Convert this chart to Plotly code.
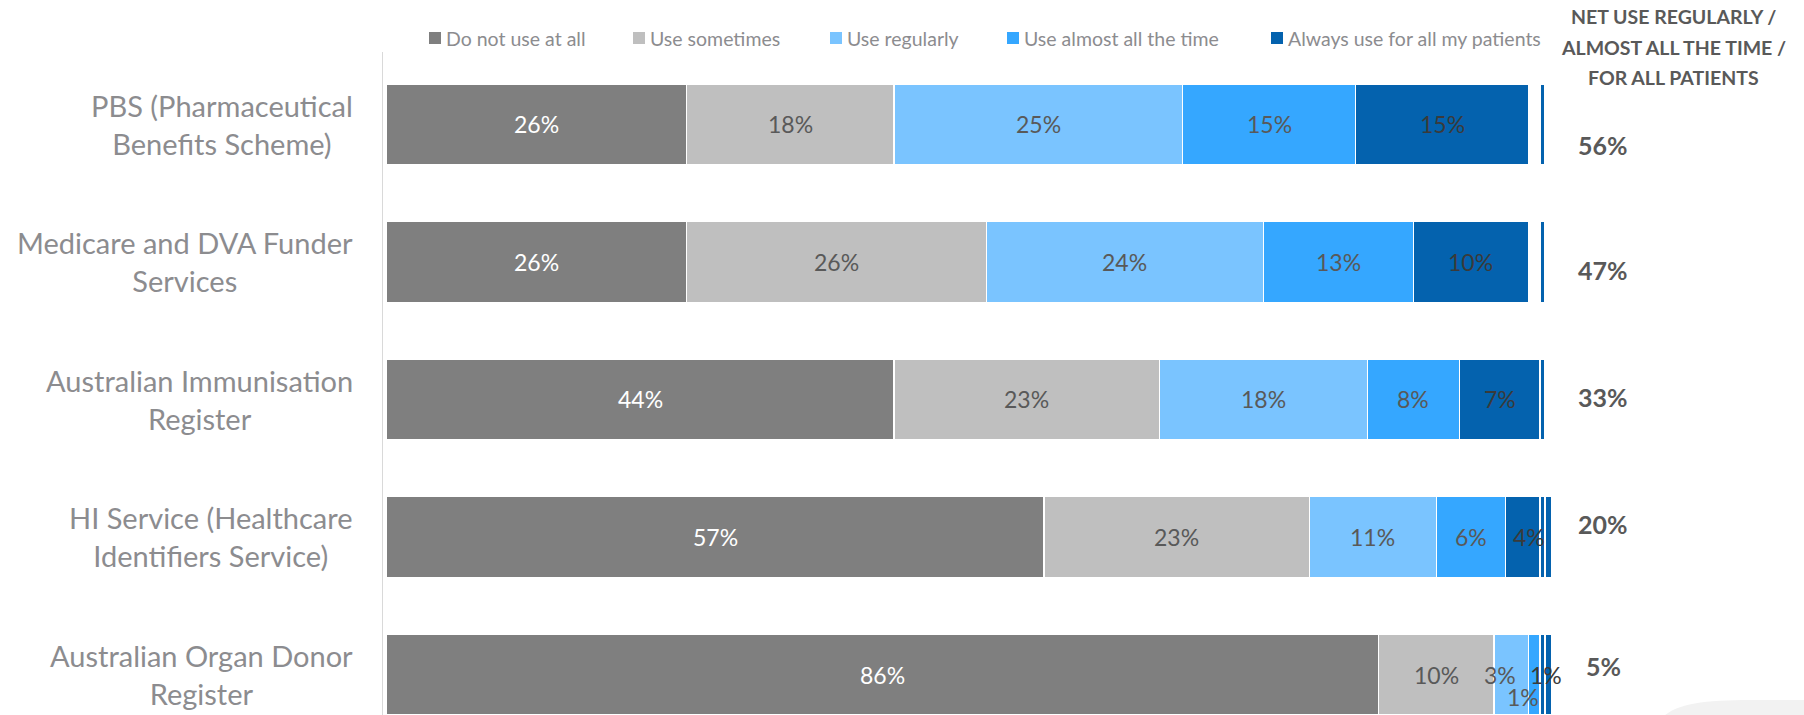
import plotly.graph_objects as go

# ---- data -------------------------------------------------------------
categories = [
    "PBS (Pharmaceutical<br>Benefits Scheme)",
    "Medicare and DVA Funder<br>Services",
    "Australian Immunisation<br>Register",
    "HI Service (Healthcare<br>Identifiers Service)",
    "Australian Organ Donor<br>Register",
]
series_names = [
    "Do not use at all",
    "Use sometimes",
    "Use regularly",
    "Use almost all the time",
    "Always use for all my patients",
]
do_not_use = [26, 26, 44, 57, 86]
use_sometimes = [18, 26, 23, 23, 10]
use_regularly = [25, 24, 18, 11, 3]
use_almost_all = [15, 13, 8, 6, 1]
always_use = [15, 10, 7, 4, 1]
net_use = [56, 47, 33, 20, 5]
net_header = "NET USE REGULARLY /<br>ALMOST ALL THE TIME /<br>FOR ALL PATIENTS"

series_values = [do_not_use, use_sometimes, use_regularly, use_almost_all, always_use]

# ---- style ------------------------------------------------------------
FONT = "Lato"
colors = ["#7F7F7F", "#BFBFBF", "#7AC4FF", "#35A7FF", "#0462AE"]
label_colors = ["#FFFFFF", "#595959", "#595959", "#595959", "#3A3A3A"]
label_gray = "#8C8C8F"
dark_text = "#595959"

W, H = 1804, 715
M_L, M_R, M_T, M_B = 383, 250, 52, 0
PLOT_W = W - M_L - M_R
PLOT_H = H - M_T - M_B


def px_x(px):
    return (px - M_L) / PLOT_W


def px_y(py):
    return (H - M_B - py) / PLOT_H


rows = list(range(len(categories)))

fig = go.Figure()

# stacked segments
for name, vals, col in zip(series_names, series_values, colors):
    fig.add_trace(go.Bar(
        name=name, y=rows, x=vals, orientation="h",
        marker=dict(color=col, line=dict(color="#FFFFFF", width=1.2)),
        width=0.59, showlegend=False, hoverinfo="skip",
    ))

# thin end marker after every bar
marker_w = [0.4] * len(categories)
fig.add_trace(go.Bar(
    y=rows, x=marker_w, base=[100] * len(categories), orientation="h",
    marker=dict(color=colors[-1], line=dict(color="#FFFFFF", width=1.5)),
    width=0.59, showlegend=False, hoverinfo="skip",
))

annotations = []

# segment value labels
label_shift = {(4, 2): (-11, 0), (4, 3): (-11, -22)}
for r in rows:
    start = 0
    for s, vals in enumerate(series_values):
        v = vals[r]
        dx, dy = label_shift.get((r, s), (0, 0))
        annotations.append(dict(
            x=start + v / 2, y=r, xref="x", yref="y", text=f"{v}%",
            showarrow=False, xanchor="center", yanchor="middle",
            xshift=dx, yshift=dy,
            font=dict(family=FONT, size=23, color=label_colors[s]),
        ))
        start += v

# category labels
for r, cat in enumerate(categories):
    annotations.append(dict(
        x=0, y=r, xref="paper", yref="y", text=cat, showarrow=False,
        xanchor="right", yanchor="middle", align="center", xshift=-28,
        font=dict(family=FONT, size=29, color=label_gray),
    ))

# net column
net_yshift = [-21, -8, 2, 13, 9]
for r, v in enumerate(net_use):
    annotations.append(dict(
        x=px_x(1603), y=r, xref="paper", yref="y", text=f"<b>{v}%</b>",
        showarrow=False, xanchor="center", yanchor="middle", yshift=net_yshift[r],
        font=dict(family=FONT, size=25, color=dark_text),
    ))

header_lines = net_header.split("<br>")
for i, line in enumerate(header_lines):
    annotations.append(dict(
        x=px_x(1673), y=px_y(17 + 30.5 * i), xref="paper", yref="paper",
        text=f"<b>{line}</b>", showarrow=False, xanchor="center", yanchor="middle",
        font=dict(family=FONT, size=19.5, color=dark_text),
    ))

# legend row
shapes = []
legend_px = [429, 633, 830, 1007, 1271]
legend_cy = 38
for name, col, lx in zip(series_names, colors, legend_px):
    shapes.append(dict(
        type="rect", xref="paper", yref="paper",
        x0=px_x(lx), x1=px_x(lx + 12), y0=px_y(legend_cy + 6), y1=px_y(legend_cy - 6),
        fillcolor=col, line=dict(width=0),
    ))
    annotations.append(dict(
        x=px_x(lx + 15), y=px_y(legend_cy), xref="paper", yref="paper",
        text=name, showarrow=False, xanchor="left", yanchor="middle",
        font=dict(family=FONT, size=19.5, color=label_gray),
    ))

# soft corner decoration
p = lambda a, b: f"{px_x(a):.5f},{px_y(b):.5f}"
shapes.append(dict(
    type="path", xref="paper", yref="paper", layer="below",
    path=f"M {p(1664, 716)} C {p(1680, 702)} {p(1710, 700)} {p(1760, 700)} "
         f"L {p(1806, 700)} L {p(1806, 716)} Z",
    fillcolor="#F2F2F2", line=dict(width=0),
))

fig.update_layout(
    width=W, height=H,
    margin=dict(l=M_L, r=M_R, t=M_T, b=M_B),
    barmode="stack",
    plot_bgcolor="#FFFFFF", paper_bgcolor="#FFFFFF",
    xaxis=dict(range=[-0.3, 101.2], visible=False, fixedrange=True),
    yaxis=dict(
        range=[4.2945, -0.527], showticklabels=False, showgrid=False,
        zeroline=False, showline=True, linecolor="#D9D9D9", linewidth=1,
        ticks="", fixedrange=True,
    ),
    annotations=annotations,
    shapes=shapes,
    font=dict(family=FONT),
)

fig.write_html("out.html")
